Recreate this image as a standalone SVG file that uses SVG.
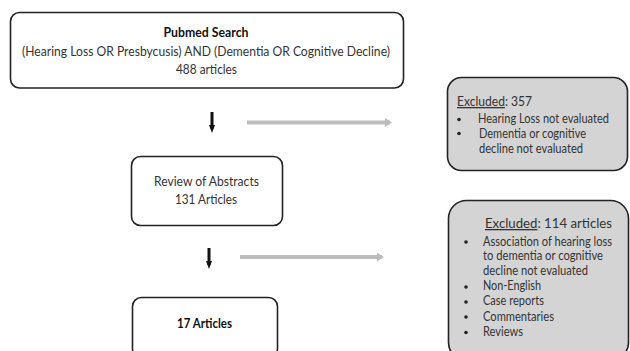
<svg xmlns="http://www.w3.org/2000/svg" width="630" height="351" viewBox="0 0 630 351">
<defs>
<style>
.box{fill:#fff;stroke:#222;stroke-width:1.6}
.exc{fill:#d4d4d4;stroke:#222;stroke-width:1.6}
.t{font-family:Lato,"Liberation Sans",sans-serif;font-size:13px;fill:#333}
.tc{text-anchor:middle}
.b{font-weight:bold;fill:#111}
.bul{fill:#222}
.down{stroke:#111;stroke-width:3;fill:none}
.side{stroke:#bdbdbd;stroke-width:4;fill:none}
</style>
<marker id="bh" markerWidth="8" markerHeight="6" refX="4" refY="3" orient="auto" markerUnits="userSpaceOnUse" viewBox="0 0 8 6">
<path d="M0,0 L8,3 L0,6 Z" fill="#111"/>
</marker>
<marker id="gh" markerWidth="7" markerHeight="9" refX="5" refY="4.5" orient="auto" markerUnits="userSpaceOnUse" viewBox="0 0 7 9">
<path d="M0,0 L7,4.5 L0,9 Z" fill="#bdbdbd"/>
</marker>
</defs>
<rect width="630" height="351" fill="#fff"/>
<g id="search">
<rect class="box" x="10.5" y="12.5" width="393" height="75.5" rx="9"/>
<text class="t tc b" x="206" y="37" textLength="85" lengthAdjust="spacingAndGlyphs">Pubmed Search</text>
<text class="t tc" x="206" y="56" textLength="368" lengthAdjust="spacingAndGlyphs">(Hearing Loss OR Presbycusis) AND (Dementia OR Cognitive Decline)</text>
<text class="t tc" x="206.5" y="74" textLength="61" lengthAdjust="spacingAndGlyphs">488 articles</text>
</g>
<g id="excluded1">
<rect class="exc" x="447.5" y="77.5" width="180" height="93" rx="14"/>
<text class="t" x="457" y="106" textLength="75" lengthAdjust="spacingAndGlyphs"><tspan text-decoration="underline">Excluded</tspan>: 357</text>
<circle class="bul" cx="459" cy="119.5" r="1.8"/>
<text class="t" x="478" y="123" textLength="131" lengthAdjust="spacingAndGlyphs">Hearing Loss not evaluated</text>
<circle class="bul" cx="459" cy="133.5" r="1.8"/>
<text class="t" x="479" y="137.5" textLength="107" lengthAdjust="spacingAndGlyphs">Dementia or cognitive</text>
<text class="t" x="479" y="153" textLength="104" lengthAdjust="spacingAndGlyphs">decline not evaluated</text>
</g>
<g id="review">
<rect class="box" x="131.5" y="156.5" width="151" height="69" rx="9"/>
<text class="t tc" x="206.5" y="186" textLength="105" lengthAdjust="spacingAndGlyphs">Review of Abstracts</text>
<text class="t tc" x="206" y="204" textLength="62" lengthAdjust="spacingAndGlyphs">131 Articles</text>
</g>
<g id="excluded2">
<rect class="exc" x="448.5" y="200.5" width="180" height="160" rx="18"/>
<text class="t" x="485" y="228" textLength="127" lengthAdjust="spacingAndGlyphs"><tspan text-decoration="underline">Excluded</tspan>: 114 articles</text>
<circle class="bul" cx="466" cy="242" r="1.8"/>
<text class="t" x="483" y="245.5" textLength="129" lengthAdjust="spacingAndGlyphs">Association of hearing loss</text>
<text class="t" x="483" y="260" textLength="120" lengthAdjust="spacingAndGlyphs">to dementia or cognitive</text>
<text class="t" x="483" y="274.5" textLength="105" lengthAdjust="spacingAndGlyphs">decline not evaluated</text>
<circle class="bul" cx="466" cy="287" r="1.8"/>
<text class="t" x="483" y="290" textLength="58" lengthAdjust="spacingAndGlyphs">Non-English</text>
<circle class="bul" cx="466" cy="302" r="1.8"/>
<text class="t" x="483" y="305" textLength="61" lengthAdjust="spacingAndGlyphs">Case reports</text>
<circle class="bul" cx="466" cy="317" r="1.8"/>
<text class="t" x="483" y="320.5" textLength="71" lengthAdjust="spacingAndGlyphs">Commentaries</text>
<circle class="bul" cx="466" cy="332.5" r="1.8"/>
<text class="t" x="483" y="336" textLength="40" lengthAdjust="spacingAndGlyphs">Reviews</text>
</g>
<g id="final">
<rect class="box" x="132.5" y="297.5" width="145" height="60" rx="9"/>
<text class="t tc b" x="204.5" y="327.5" textLength="55" lengthAdjust="spacingAndGlyphs">17 Articles</text>
</g>
<g id="connectors">
<line class="down" x1="212" y1="112" x2="212" y2="129" marker-end="url(#bh)"/>
<line class="side" x1="247" y1="122.5" x2="390" y2="122.5" marker-end="url(#gh)"/>
<line class="down" x1="209" y1="248" x2="209" y2="265" marker-end="url(#bh)"/>
<line class="side" x1="240" y1="257" x2="382" y2="257" marker-end="url(#gh)"/>
</g>
</svg>
